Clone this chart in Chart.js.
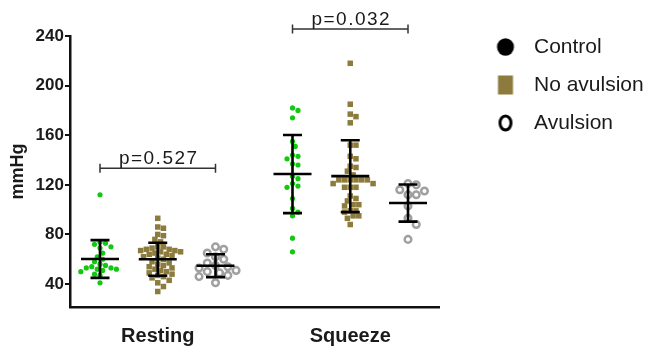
<!DOCTYPE html>
<html>
<head>
<meta charset="utf-8">
<script src="https://cdn.jsdelivr.net/npm/chart.js@4.4.1/dist/chart.umd.min.js"></script>
<style>
  html, body { margin: 0; padding: 0; background: #fff; }
</style>
</head>
<body>
<canvas id="chart" width="647" height="349"></canvas>
<script>
var categories = ['Resting', 'Squeeze'];
var groups = ['Control', 'No avulsion', 'Avulsion'];
var yTicks = [40, 80, 120, 160, 200, 240];

// individual pressures (mmHg)
var controlResting = [112, 74, 73, 72, 70, 69, 65, 62, 60, 58, 56, 55, 54, 53, 53, 52, 52, 51, 50, 48, 47, 41];
var noAvulsionResting = [93, 86, 85, 80, 79, 76, 74, 70, 70, 69, 68, 68, 67, 67, 66, 66, 65, 64, 64, 63, 62, 61,
  60, 58, 57, 56, 55, 54, 53, 52, 51, 50, 49, 48, 47, 46, 45, 43, 41, 38, 34];
var avulsionResting = [70, 68, 65, 62, 60, 57, 55, 54, 53, 51, 50, 49, 47, 46, 41];

var controlSqueeze = [182, 180, 174, 155, 151, 144, 143, 141, 137, 136, 127, 125, 121, 119, 118, 109, 101, 98, 95, 77, 66];
var noAvulsionSqueeze = [218, 185, 177, 175, 170, 152, 152, 143, 141, 135, 134, 131, 128, 124, 124, 124, 124, 124, 124,
  121, 121, 118, 118, 118, 111, 109, 107, 104, 104, 103, 99, 99, 98, 95, 95, 93, 88];
var avulsionSqueeze = [121, 120, 116, 115, 112, 112, 103, 93, 88, 76];

// mean and SD shown by the black bars
var meanResting = [60.2, 60.0, 54.8];
var sdResting = [15.2, 13.3, 9.2];
var meanSqueeze = [128.7, 127.0, 105.3];
var sdSqueeze = [31.5, 29.0, 15.0];

var pLabels = ['p=0.527', 'p=0.032'];
var pLevels = [133.3, 245.6];

var GREEN = '#12c812';
var OLIVE = '#8c7b3c';
var GRAY = '#a0a0a0';
var INK = '#1a1a1a';
var GROUP_GAP = 0.3;
var PX_X = 193, PX_Y = 1.24;

Chart.defaults.font.family = "'Liberation Sans', Arial, sans-serif";

// simple beeswarm so dots with close values sit side by side
function swarm(values, cx, diam) {
  var placed = [];
  return values.map(function (v) {
    var y = v * PX_Y, off = 0;
    for (var i = 0; i < 80; i++) {
      off = (i % 2 ? 1 : -1) * Math.ceil(i / 2) * diam * 0.55;
      var hit = placed.some(function (p) {
        var dx = p.x - off, dy = p.y - y;
        return dx * dx + dy * dy < diam * diam;
      });
      if (!hit) break;
    }
    placed.push({ x: off, y: y });
    return { x: cx + off / PX_X, y: v };
  });
}

function marker(draw) {
  var c = document.createElement('canvas');
  c.width = 20; c.height = 22;
  draw(c.getContext('2d'));
  return c;
}
var legendMarks = [
  marker(function (g) { g.fillStyle = '#000'; g.beginPath(); g.ellipse(10, 11, 8.5, 8.7, 0, 0, Math.PI * 2); g.fill(); }),
  marker(function (g) { g.fillStyle = OLIVE; g.fillRect(2.5, 1.5, 15, 19); }),
  marker(function (g) { g.strokeStyle = '#000'; g.lineWidth = 3; g.beginPath(); g.ellipse(10, 11, 5.5, 7, 0, 0, Math.PI * 2); g.stroke(); })
];

var errorBars = {
  id: 'errorBars',
  afterDatasetsDraw: function (chart) {
    var ctx = chart.ctx, xs = chart.scales.x, ys = chart.scales.y;
    ctx.save();
    ctx.strokeStyle = '#000';
    ctx.lineWidth = 2.6;
    [meanResting, meanSqueeze].forEach(function (means, c) {
      var sds = c ? sdSqueeze : sdResting;
      means.forEach(function (m, g) {
        var x = xs.getPixelForValue(c + (g - 1) * GROUP_GAP);
        var yM = ys.getPixelForValue(m);
        var yT = ys.getPixelForValue(m + sds[g]);
        var yB = ys.getPixelForValue(m - sds[g]);
        ctx.beginPath();
        ctx.moveTo(x - 19, yM); ctx.lineTo(x + 19, yM);
        ctx.moveTo(x, yT); ctx.lineTo(x, yB);
        ctx.moveTo(x - 9.5, yT); ctx.lineTo(x + 9.5, yT);
        ctx.moveTo(x - 9.5, yB); ctx.lineTo(x + 9.5, yB);
        ctx.stroke();
      });
    });
    // significance brackets
    ctx.strokeStyle = '#333';
    ctx.lineWidth = 1.5;
    ctx.fillStyle = INK;
    ctx.font = "19px 'Liberation Sans', Arial, sans-serif";
    if ('letterSpacing' in ctx) ctx.letterSpacing = '1.5px';
    ctx.textAlign = 'center';
    ctx.textBaseline = 'alphabetic';
    pLabels.forEach(function (label, c) {
      var x1 = xs.getPixelForValue(c - GROUP_GAP);
      var x2 = xs.getPixelForValue(c + GROUP_GAP);
      var y = ys.getPixelForValue(pLevels[c]);
      ctx.beginPath();
      ctx.moveTo(x1, y); ctx.lineTo(x2, y);
      ctx.moveTo(x1, y - 4.5); ctx.lineTo(x1, y + 4.5);
      ctx.moveTo(x2, y - 4.5); ctx.lineTo(x2, y + 4.5);
      ctx.stroke();
      ctx.fillText(label, xs.getPixelForValue(c) + 1, y - 4);
    });
    ctx.restore();
  }
};

var config = {
  type: 'scatter',
  data: {
    datasets: [
      {
        label: groups[0],
        data: swarm(controlResting, -GROUP_GAP, 5).concat(swarm(controlSqueeze, 1 - GROUP_GAP, 5)),
        pointStyle: 'circle',
        pointRadius: 2.6,
        pointBackgroundColor: GREEN,
        pointBorderWidth: 0
      },
      {
        label: groups[1],
        data: swarm(noAvulsionResting, 0, 5.2).concat(swarm(noAvulsionSqueeze, 1, 5.2)),
        pointStyle: 'rect',
        pointRadius: 3.9,
        pointBackgroundColor: OLIVE,
        pointBorderWidth: 0
      },
      {
        label: groups[2],
        data: swarm(avulsionResting, GROUP_GAP, 7.5).concat(swarm(avulsionSqueeze, 1 + GROUP_GAP, 7.5)),
        pointStyle: 'circle',
        pointRadius: 3.3,
        pointBackgroundColor: '#fff',
        pointBorderColor: GRAY,
        pointBorderWidth: 2.5
      }
    ]
  },
  options: {
    responsive: false,
    animation: false,
    layout: { padding: { top: 19.5, bottom: 1, left: 0, right: 0 } },
    scales: {
      x: {
        type: 'linear',
        min: -0.456,
        max: 1.461,
        afterBuildTicks: function (s) { s.ticks = categories.map(function (c, i) { return { value: i }; }); },
        ticks: {
          autoSkip: false,
          maxRotation: 0,
          padding: 0,
          color: INK,
          font: { size: 20, weight: 'bold' },
          callback: function (v) { return categories[v]; }
        },
        // invisible tick marks only hold the labels away from the axis
        grid: { display: true, drawOnChartArea: false, drawTicks: true, tickLength: 17, color: 'rgba(0,0,0,0)' },
        border: { color: '#111', width: 2.5 }
      },
      y: {
        min: 21.5,
        max: 240,
        afterBuildTicks: function (s) { s.ticks = yTicks.map(function (v) { return { value: v }; }); },
        ticks: { padding: 1, color: INK, font: { size: 17, weight: 'bold' } },
        grid: { display: true, drawOnChartArea: false, drawTicks: true, tickLength: 5, color: '#111', lineWidth: 2 },
        border: { color: '#111', width: 2.5 },
        title: {
          display: true,
          text: 'mmHg',
          color: INK,
          font: { size: 18, weight: 'bold' },
          padding: { top: 7, bottom: 6 }
        }
      },
      // empty axis that keeps the gap between the plot and the legend
      gap: {
        type: 'linear',
        position: 'right',
        display: true,
        ticks: { display: false },
        grid: { display: false },
        border: { display: false },
        afterFit: function (s) { s.width = 31.5; }
      }
    },
    plugins: {
      title: { display: true, text: '', font: { size: 10, lineHeight: 1 }, padding: { top: 6.5, bottom: 0 } },
      tooltip: { enabled: false },
      legend: {
        position: 'right',
        align: 'start',
        maxWidth: 176.5,
        labels: {
          usePointStyle: true,
          pointStyleWidth: 36,
          padding: 17,
          color: INK,
          font: { size: 21 },
          generateLabels: function () {
            return groups.map(function (g, i) {
              return {
                text: g,
                pointStyle: legendMarks[i],
                fillStyle: 'transparent',
                strokeStyle: 'transparent',
                lineWidth: 0,
                hidden: false,
                datasetIndex: i,
                fontColor: INK
              };
            });
          }
        }
      }
    }
  },
  plugins: [errorBars]
};

var ctx = document.getElementById('chart').getContext('2d');
window.myChart = new Chart(ctx, config);
</script>
</body>
</html>
